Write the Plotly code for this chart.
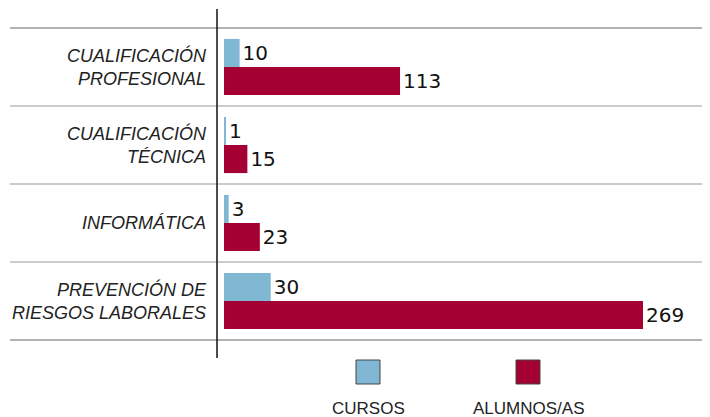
import plotly.graph_objects as go

categories = ["CUALIFICACIÓN<br>PROFESIONAL", "CUALIFICACIÓN<br>TÉCNICA", "INFORMÁTICA", "PREVENCIÓN DE<br>RIESGOS LABORALES"]
series_names = ["CURSOS", "ALUMNOS/AS"]
cursos = [10, 1, 3, 30]
alumnos = [113, 15, 23, 269]
colors = ["#80B7D3", "#A50034"]

OFF = 8  # default page body margin
W, H = 710 - OFF, 417 - OFF
ml, mr, mt, mb = 217 - OFF, 0, 28 - OFF, 417 - 340
pw, ph = W - ml - mr, H - mt - mb


def py(y):  # reference pixel y -> paper y
    return (H - mb - (y - OFF)) / ph


def px(x):  # reference pixel x -> paper x
    return ((x - OFF) - ml) / pw


fig = go.Figure()
for name, vals, col in zip(series_names, [cursos, alumnos], colors):
    fig.add_trace(go.Bar(
        y=categories, x=vals, name=name, orientation="h",
        marker=dict(color=col, line=dict(width=0)),
        text=[str(v) for v in vals], textposition="outside",
        textfont=dict(family="DejaVu Sans", size=20, color="#111"),
        cliponaxis=False, showlegend=False,
    ))

fig.update_layout(
    width=W, height=H, barmode="group", bargap=0.28, bargroupgap=0,
    margin=dict(l=ml, r=mr, t=mt, b=mb),
    plot_bgcolor="white", paper_bgcolor="white",
    xaxis=dict(range=[-4.5, 312], visible=False, showgrid=False, zeroline=False),
    yaxis=dict(autorange="reversed", showgrid=False, zeroline=False, showline=False,
               ticks="", ticklabelstandoff=10,
               tickfont=dict(family="Liberation Sans, Arial", size=18, color="#222", style="italic")),
    font=dict(family="Liberation Sans, Arial"),
)

# separator lines between categories
for i in range(len(categories) + 1):
    yv = 1 - i / len(categories)
    fig.add_shape(type="line", xref="paper", yref="paper",
                  x0=px(10), x1=1, y0=yv, y1=yv,
                  line=dict(color="#BBBBBB" if 0 < i < len(categories) else "#999999", width=1.5))

# vertical axis line
fig.add_shape(type="line", xref="paper", yref="paper",
              x0=0, x1=0, y0=py(358), y1=py(9),
              line=dict(color="#111", width=1.5))

# custom legend (symbol above label)
leg_x = [368, 528]
for name, col, cx in zip(series_names, colors, leg_x):
    fig.add_shape(type="rect", xref="paper", yref="paper",
                  x0=px(cx - 12), x1=px(cx + 12),
                  y0=py(384), y1=py(360),
                  fillcolor=col, line=dict(color="#444", width=1))
    fig.add_annotation(text=name, xref="paper", yref="paper",
                       x=px(cx), y=py(408),
                       showarrow=False, xanchor="center", yanchor="middle",
                       font=dict(family="Liberation Sans, Arial", size=17, color="#222"))

fig.write_html("out.html")
